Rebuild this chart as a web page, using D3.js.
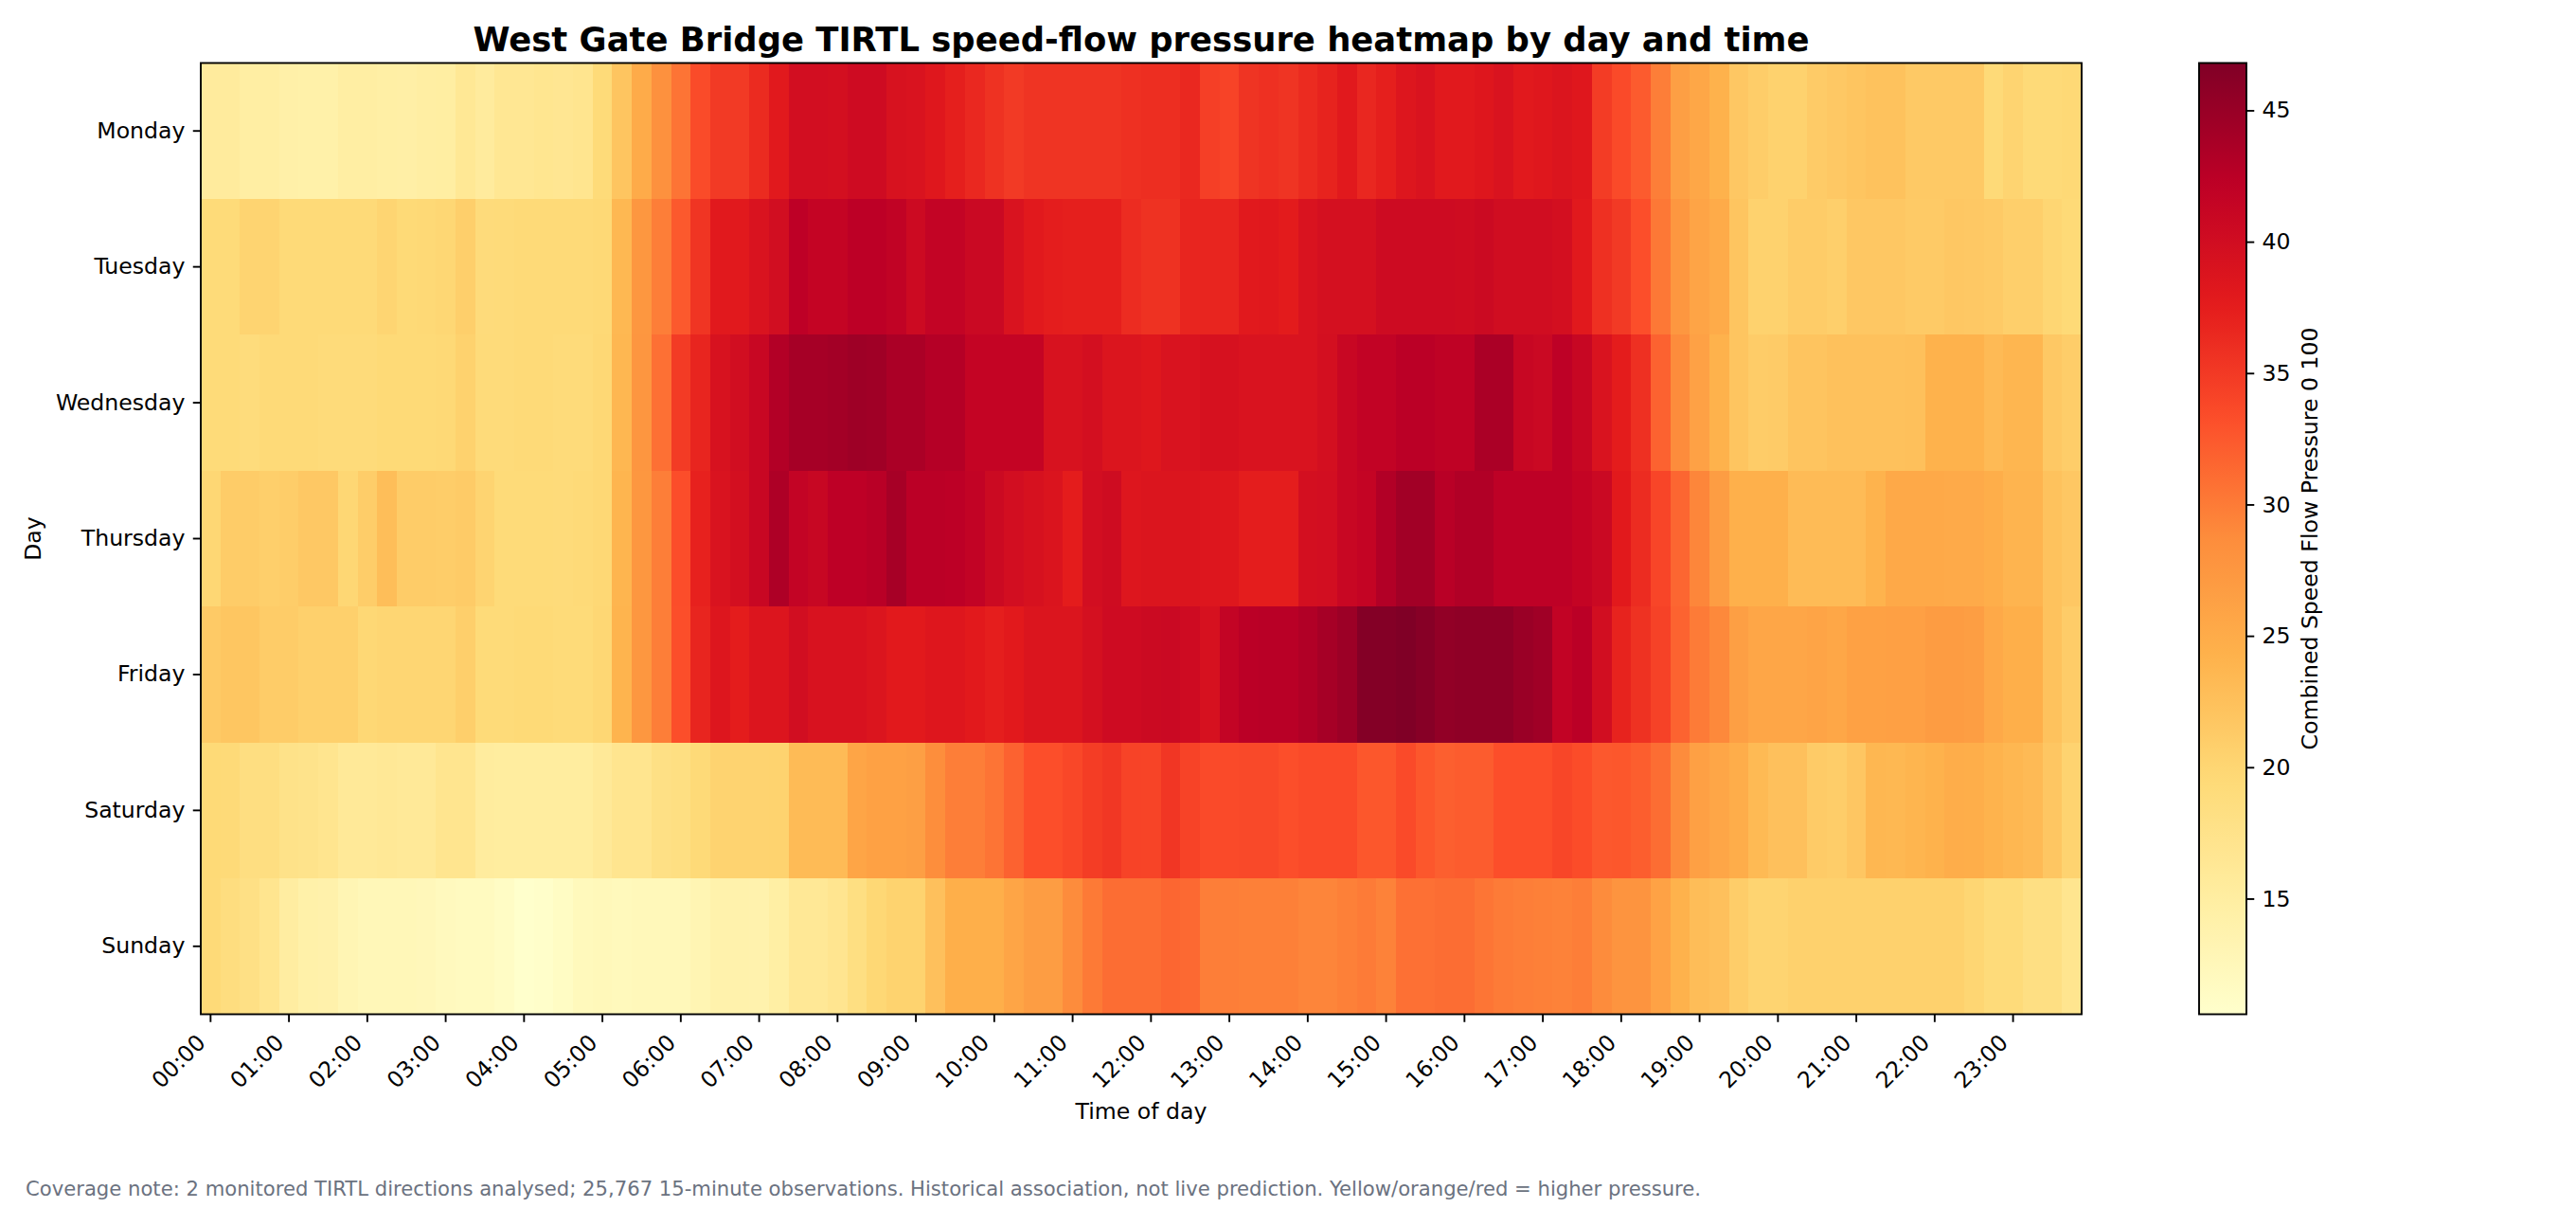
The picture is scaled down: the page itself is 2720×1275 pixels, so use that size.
<!DOCTYPE html>
<html>
<head>
<meta charset="utf-8">
<script src="https://cdn.jsdelivr.net/npm/d3@7"></script>
<style>
  body { margin: 0; background: #fff; }
  text { font-family: "DejaVu Sans", sans-serif; }
</style>
</head>
<body>
<script>
// day rows, top to bottom
var days = ["Monday", "Tuesday", "Wednesday", "Thursday", "Friday", "Saturday", "Sunday"];

// 96 x 15-minute slots per day
var monday = [15.5,15.5,14.8,14.8,14.3,14.2,14.2,14.8,14.8,14.6,14.5,14.8,14.9,16.3,15.5,16.5,16.5,16.8,16.6,17,19.3,22,25,28.2,
  30.5,33.5,35,35,36.3,38,39.8,39.8,39.7,40.3,40.3,39.2,39,38.2,37.3,36.5,35.7,35,35.5,35.5,35.5,35.5,35.5,35.8,
  36,36,36.5,34.5,34.2,35.5,35.8,35.5,36.3,37,38,36.6,37.3,38.5,38.9,38,38,38.4,38.9,38,38.2,38.7,38.2,34.8,
  33.6,32.3,29.8,26.5,25.5,24.2,21.7,21,20.5,20.5,21.3,21.6,22,22.3,22.3,21.5,21.5,21.5,21.5,19.4,20.2,19.4,19.4,19.7];
var tuesday = [19.3,19.3,20.2,20.2,19.4,19.4,19.4,19.4,19.4,20.1,19.5,19.6,19.9,20.8,19.1,19.2,19.4,19.4,19.4,19.4,19.7,23.5,27.5,29.8,
  32.4,35.4,38,38,39,39.9,42.2,41.5,41.5,42.3,42.3,41.8,40.5,41.6,41.6,40.7,40.7,38.9,38,37.5,37.3,37.3,37.3,36.2,
  35.7,35.7,36.8,36.8,36.8,38,38.1,37.7,39,39.5,39.5,39.5,40.4,40.4,40.4,40.4,40.2,40.6,40,40,40,39.7,38,35.8,
  35,33.2,30.2,27.5,25.9,25,22,20.5,20.5,21.2,21.2,20.8,21.7,21.7,21.7,21.4,21.4,21.7,21.6,21.4,20.8,20.8,20,19.5];
var wednesday = [19.3,19.3,19,19.4,19.4,19.4,19.2,19.2,19.2,19.5,19.5,19.5,19.7,20.5,19.2,19.2,19.4,19.4,19.2,19.2,19.8,23.6,27.6,30.8,
  34.9,36.8,39.2,39.9,41,43,44,44,44.2,44.6,44.4,43.6,43.6,42.9,42.9,41.5,41.5,41.5,41.5,39.2,39.2,39.6,38.7,38.7,
  38.3,39,39,39.3,39.3,39,39,39,39,39.6,41,41.7,41.7,42.4,42.4,42,42,43.6,43.6,41.1,40.7,42.1,41.1,39,
  37.6,35.8,31.8,28.8,26.2,24.2,22,21.2,21.3,22.1,22.1,22.4,22.4,22.4,22.4,22.6,24.2,24.2,24.2,23.2,23.7,23.7,21.6,21];
var thursday = [19.9,21.2,21.2,20.8,21.1,21.6,21.6,19.9,21,22.8,21.2,21.2,21,21.3,20.2,19.3,19.3,19.3,19.2,19.4,19.8,23.8,27.5,29.8,
  33.3,37.1,38.9,39.6,41,43.4,41.6,41.1,42.2,42.2,42.6,43.9,42.4,42.4,42.3,41.7,40.6,39.8,39.3,38.8,37.6,39.8,40.2,38.5,
  38.7,38.7,38.7,38.5,38.3,37.5,37.5,37.5,39.6,39.8,41,41.5,43.1,44.3,44.3,42.6,43.2,43.2,42.1,42.1,42.1,42.1,41.5,40.7,
  37.9,36.2,34,31.5,29.2,26.8,24.4,24.4,24.4,23.1,23.1,23.1,23.1,24.1,25.3,25.3,25.3,25.1,25.1,24.7,23.9,23.9,22.3,21.7];
var friday = [21.4,21.9,21.9,21.2,21.2,20.7,20.7,20.7,19.8,20,20,20,20,20.8,19.3,19.3,19.5,19.5,19.3,19.3,19.9,24,27.5,29.8,
  33.2,36.8,38.5,37.6,38.6,38.6,39.9,39.1,39.1,39.1,38.7,37.9,37.9,38.4,38.4,37.9,37.4,37.9,38.7,38.7,38.7,39.5,40.3,40.3,
  40.6,40.7,40.3,39.3,41.6,42.4,42.6,42.6,43.2,44,44.7,46.5,46.5,46.8,46.3,45.5,45.7,45.7,45.7,44.9,44.4,41.7,42.4,39.9,
  37,35.7,34.3,31.7,30,29,26.5,25.6,25.6,25.7,25.9,25.5,26.3,26.3,26.4,26.4,26.9,26.9,26.6,25.3,24.6,24.6,22.3,21.2];
var saturday = [19.5,19.4,18.5,18.5,17.6,17.4,17,16,16,16.2,16,16,17,17,15.3,15.2,15.2,15.2,15.2,15.2,16,17,17,18,
  18.4,19.4,20.3,20.3,20.3,20.4,23.1,23.1,23.1,25.8,26.3,26.3,26.5,28.6,29.8,29.8,30.5,31.8,33.2,33.2,33.8,34.7,35.2,34.2,
  34.1,35.3,34.2,33.6,33.6,33.7,33.7,33.2,33.6,33.6,33.6,32.6,32.6,33.6,32.6,32,32.2,32.2,33.2,33.2,33.2,33.9,33.4,32.5,
  32.6,32.1,31,28.8,26.4,25.7,24.8,23.3,22.5,22.5,21.3,21.1,21.8,23.6,23.5,23.8,24.2,24.8,24.7,24.1,23.6,23.2,21.8,20.3];
var sunday = [19.4,18.7,18,17,15,14.2,14,13.1,12.7,12.7,12.7,12.5,12,11.8,11.8,11.3,10.6,10.8,11.4,12.2,12.4,12.2,12.4,12.4,
  12.4,13.2,13.9,13.9,13.8,14.7,16.2,16.2,16.9,18.4,19.8,20.4,20.4,22.5,24.6,24.6,24.6,25.8,26.7,26.7,28.8,30.1,31,31,
  31,31.5,31.3,29.8,29.8,29.6,29.6,29.6,29.3,29.3,29.6,30,29.5,30.8,30.8,31,31,30.4,30,29.8,29.6,29.5,29.8,28.8,
  27.9,27.9,26.1,24.2,22.9,22.5,21.1,20.2,20.2,20.6,20.6,20.6,20.6,20.6,20.6,20.6,20.6,20.6,20,19.2,19.2,18.2,18.2,17];

var pressure = [monday, tuesday, wednesday, thursday, friday, saturday, sunday];
var hourLabels = d3.range(24).map(function (h) { return (h < 10 ? "0" : "") + h + ":00"; });
var cbarTicks = [15, 20, 25, 30, 35, 40, 45];

var width = 2720, height = 1275;
var plotLeft = 212, plotRight = 2198, plotTop = 66.5, plotBottom = 1070.5;
var tick = 8.26, fs = 23.6;

// YlOrRd, linear between the 9 brewer colours like matplotlib
var ylorrd = ["#ffffcc", "#ffeda0", "#fed976", "#feb24c", "#fd8d3c", "#fc4e2a", "#e31a1c", "#bd0026", "#800026"];
var ext = d3.extent(d3.merge(pressure));
var color = d3.scaleLinear()
    .domain(ylorrd.map(function (d, i) { return ext[0] + i * (ext[1] - ext[0]) / 8; }))
    .range(ylorrd)
    .interpolate(d3.interpolateRgb);

var x = d3.scaleBand().domain(d3.range(96)).range([plotLeft, plotRight]);
var y = d3.scaleBand().domain(days).range([plotTop, plotBottom]);

var svg = d3.select("body").append("svg")
    .attr("xmlns", "http://www.w3.org/2000/svg")
    .attr("width", width)
    .attr("height", height);

svg.append("rect").attr("width", width).attr("height", height).attr("fill", "#fff");

// cells
var cells = [];
pressure.forEach(function (row, r) {
    row.forEach(function (v, c) { cells.push({day: days[r], slot: c, value: v}); });
});

svg.append("g")
    .attr("shape-rendering", "crispEdges")
    .selectAll("rect")
    .data(cells)
    .enter()
    .append("rect")
    .attr("x", function (d) { return x(d.slot); })
    .attr("y", function (d) { return y(d.day); })
    .attr("width", x.bandwidth() + 0.6)
    .attr("height", y.bandwidth() + 0.6)
    .attr("fill", function (d) { return color(d.value); });

// x axis
var xAxis = svg.append("g")
    .attr("transform", "translate(0," + plotBottom + ")")
    .call(d3.axisBottom(x)
        .tickValues(d3.range(0, 96, 4))
        .tickFormat(function (i) { return hourLabels[i / 4]; })
        .tickSize(tick));
xAxis.select(".domain").remove();
xAxis.selectAll("line").attr("stroke", "#000").attr("stroke-width", 1.9);
xAxis.selectAll("text")
    .attr("font-size", fs)
    .attr("font-family", "DejaVu Sans")
    .attr("fill", "#000")
    .attr("y", 0)
    .attr("dy", null)
    .attr("text-anchor", "end")
    .attr("transform", "translate(-4,31.5) rotate(-45)");

// y axis
var yAxis = svg.append("g")
    .attr("transform", "translate(" + plotLeft + ",0)")
    .call(d3.axisLeft(y).tickSize(tick).tickPadding(tick));
yAxis.select(".domain").remove();
yAxis.selectAll("line").attr("stroke", "#000").attr("stroke-width", 1.9);
yAxis.selectAll("text")
    .attr("font-size", fs)
    .attr("font-family", "DejaVu Sans")
    .attr("fill", "#000");

// spines
svg.append("rect")
    .attr("x", plotLeft).attr("y", plotTop)
    .attr("width", plotRight - plotLeft).attr("height", plotBottom - plotTop)
    .attr("fill", "none").attr("stroke", "#000").attr("stroke-width", 1.9);

// colorbar
var cbLeft = 2322, cbRight = 2372;
var cy = d3.scaleLinear().domain(ext).range([plotBottom, plotTop]);

var grad = svg.append("defs").append("linearGradient")
    .attr("id", "cbgrad")
    .attr("x1", 0).attr("y1", 1).attr("x2", 0).attr("y2", 0);
grad.selectAll("stop")
    .data(d3.range(0, 1.0001, 0.02))
    .enter()
    .append("stop")
    .attr("offset", function (t) { return t; })
    .attr("stop-color", function (t) { return color(ext[0] + t * (ext[1] - ext[0])); });

svg.append("rect")
    .attr("x", cbLeft).attr("y", plotTop)
    .attr("width", cbRight - cbLeft).attr("height", plotBottom - plotTop)
    .attr("fill", "url(#cbgrad)")
    .attr("stroke", "#000").attr("stroke-width", 1.9);

var cAxis = svg.append("g")
    .attr("transform", "translate(" + cbRight + ",0)")
    .call(d3.axisRight(cy).tickValues(cbarTicks).tickSize(tick).tickPadding(tick));
cAxis.select(".domain").remove();
cAxis.selectAll("line").attr("stroke", "#000").attr("stroke-width", 1.9);
cAxis.selectAll("text")
    .attr("font-size", fs)
    .attr("font-family", "DejaVu Sans")
    .attr("fill", "#000");

svg.append("text")
    .attr("transform", "translate(2447," + ((plotTop + plotBottom) / 2) + ") rotate(-90)")
    .attr("text-anchor", "middle")
    .attr("font-size", fs)
    .text("Combined Speed Flow Pressure 0 100");

// titles and labels
svg.append("text")
    .attr("x", (plotLeft + plotRight) / 2).attr("y", 54)
    .attr("text-anchor", "middle")
    .attr("font-size", 35.4)
    .attr("font-weight", "bold")
    .text("West Gate Bridge TIRTL speed-flow pressure heatmap by day and time");

svg.append("text")
    .attr("x", (plotLeft + plotRight) / 2).attr("y", 1181)
    .attr("text-anchor", "middle")
    .attr("font-size", fs)
    .text("Time of day");

svg.append("text")
    .attr("transform", "translate(42.5," + ((plotTop + plotBottom) / 2) + ") rotate(-90)")
    .attr("text-anchor", "middle")
    .attr("font-size", fs)
    .text("Day");

svg.append("text")
    .attr("x", 27).attr("y", 1262)
    .attr("font-size", 21.15)
    .attr("fill", "#6b7280")
    .text("Coverage note: 2 monitored TIRTL directions analysed; 25,767 15-minute observations. Historical association, not live prediction. Yellow/orange/red = higher pressure.");
</script>
</body>
</html>
